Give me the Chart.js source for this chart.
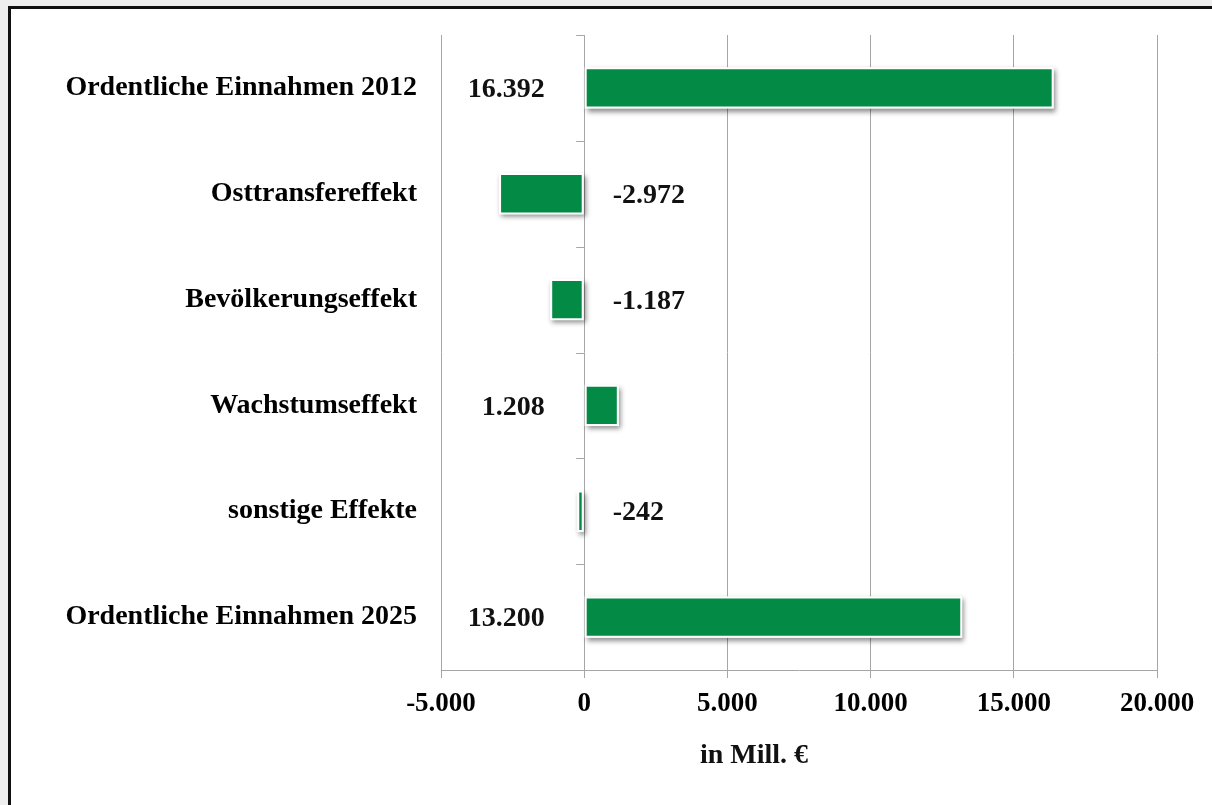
<!DOCTYPE html>
<html lang="de">

<head>
  <meta charset="UTF-8">
  <title>Einnahmen</title>
  <style>
    * {
      margin: 0;
      padding: 0;
    }

    body {
      width: 1212px;
      height: 805px;
      overflow: hidden;
      background: #eeeeee;
      position: relative;
    }

    .frame {
      position: absolute;
      left: 8px;
      top: 6px;
      width: 1220px;
      height: 820px;
      background: #ffffff;
      border-left: 3px solid #111;
      border-top: 3px solid #111;
    }

    .chartBox {
      position: absolute;
      left: 0;
      top: 0;
      width: 1212px;
      height: 805px;
    }
  </style>
</head>

<body>
  <div class="frame"></div>
  <div class="chartBox">
    <canvas id="myChart"></canvas>
  </div>
  <script src="https://cdn.jsdelivr.net/npm/chart.js@4/dist/chart.umd.min.js"></script>
  <script>
    const categories = [
      "Ordentliche Einnahmen 2012",
      "Osttransfereffekt",
      "Bevölkerungseffekt",
      "Wachstumseffekt",
      "sonstige Effekte",
      "Ordentliche Einnahmen 2025"
    ];
    const values = [16392, -2972, -1187, 1208, -242, 13200];
    const axisTitle = "in Mill. €";

    const serif = "'Liberation Serif', 'Times New Roman', serif";
    const gridGray = "#a6a6a6";

    // 1234 -> "1.234"
    const fmt = (v) => {
      const s = Math.abs(v).toString().replace(/\B(?=(\d{3})+(?!\d))/g, ".");
      return (v < 0 ? "-" : "") + s;
    };

    // shadow behind bars, zero axis tick marks, value labels, axis title
    const barExtras = {
      id: "barExtras",
      beforeDatasetsDraw(chart) {
        const ctx = chart.ctx;
        const meta = chart.getDatasetMeta(0);
        ctx.save();
        ctx.shadowColor = "rgba(0,0,0,0.45)";
        ctx.shadowBlur = 5;
        ctx.shadowOffsetX = 2;
        ctx.shadowOffsetY = 3;
        ctx.fillStyle = "#ffffff";
        meta.data.forEach(bar => {
          const left = Math.min(bar.x, bar.base);
          const w = Math.abs(bar.x - bar.base);
          ctx.fillRect(left, bar.y - bar.height / 2, w, bar.height);
        });
        ctx.restore();

        // tick marks on the category axis at 0
        const xs = chart.scales.x;
        const ys = chart.scales.y;
        const x0 = xs.getPixelForValue(0);
        ctx.save();
        ctx.strokeStyle = gridGray;
        ctx.lineWidth = 1;
        ctx.beginPath();
        for (let i = 0; i < categories.length; i++) {
          const y = Math.round(ys.getPixelForValue(i - 0.5)) + 0.5;
          ctx.moveTo(x0 - 8, y);
          ctx.lineTo(x0, y);
        }
        ctx.stroke();
        ctx.restore();
      },
      afterDatasetsDraw(chart) {
        const ctx = chart.ctx;
        const meta = chart.getDatasetMeta(0);
        ctx.save();
        ctx.font = "bold 28px " + serif;
        ctx.fillStyle = "#111";
        ctx.textBaseline = "middle";
        meta.data.forEach((bar, i) => {
          const v = values[i];
          if (v >= 0) {
            ctx.textAlign = "right";
            ctx.fillText(fmt(v), bar.base - 40, bar.y + 2);
          } else {
            ctx.textAlign = "left";
            ctx.fillText(fmt(v), bar.base + 29, bar.y + 2);
          }
        });
        ctx.restore();
      },
      afterDraw(chart) {
        // axis title sits a bit left of the plot centre
        const ctx = chart.ctx;
        const area = chart.chartArea;
        ctx.save();
        ctx.font = "bold 28px " + serif;
        ctx.fillStyle = "#111";
        ctx.textAlign = "center";
        ctx.textBaseline = "middle";
        ctx.fillText(axisTitle, (area.left + area.right) / 2 - 45, area.bottom + 86);
        ctx.restore();
      }
    };

    const data = {
      labels: categories,
      datasets: [{
        data: values,
        backgroundColor: "#038a45",
        borderColor: "#ffffff",
        borderWidth: 2,
        borderSkipped: false,
        categoryPercentage: 1,
        barPercentage: 0.39
      }]
    };

    const options = {
      indexAxis: "y",
      responsive: true,
      maintainAspectRatio: false,
      animation: false,
      layout: {
        padding: { top: 35, right: 55, left: 0, bottom: 0 }
      },
      plugins: {
        legend: { display: false },
        tooltip: { enabled: false }
      },
      scales: {
        x: {
          min: -5000,
          max: 20000,
          afterFit: (scale) => { scale.height = 135; },
          ticks: {
            stepSize: 5000,
            padding: 10,
            color: "#000",
            font: { family: serif, size: 27, weight: "bold" },
            callback: (v) => fmt(v)
          },
          grid: {
            color: gridGray,
            lineWidth: 1,
            tickLength: 8,
            tickColor: gridGray
          },
          border: { color: gridGray }
        },
        y: {
          afterFit: (scale) => {
            scale.width = 441;
            scale.paddingTop = 0;
            scale.paddingBottom = 0;
          },
          ticks: {
            padding: 24,
            color: "#000",
            font: { family: serif, size: 28, weight: "bold" }
          },
          grid: { display: false, drawTicks: false },
          border: { display: false }
        }
      }
    };

    const ctx = document.getElementById("myChart").getContext("2d");
    const myChart = new Chart(ctx, {
      type: "bar",
      data: data,
      options: options,
      plugins: [barExtras]
    });
  </script>
</body>

</html>
